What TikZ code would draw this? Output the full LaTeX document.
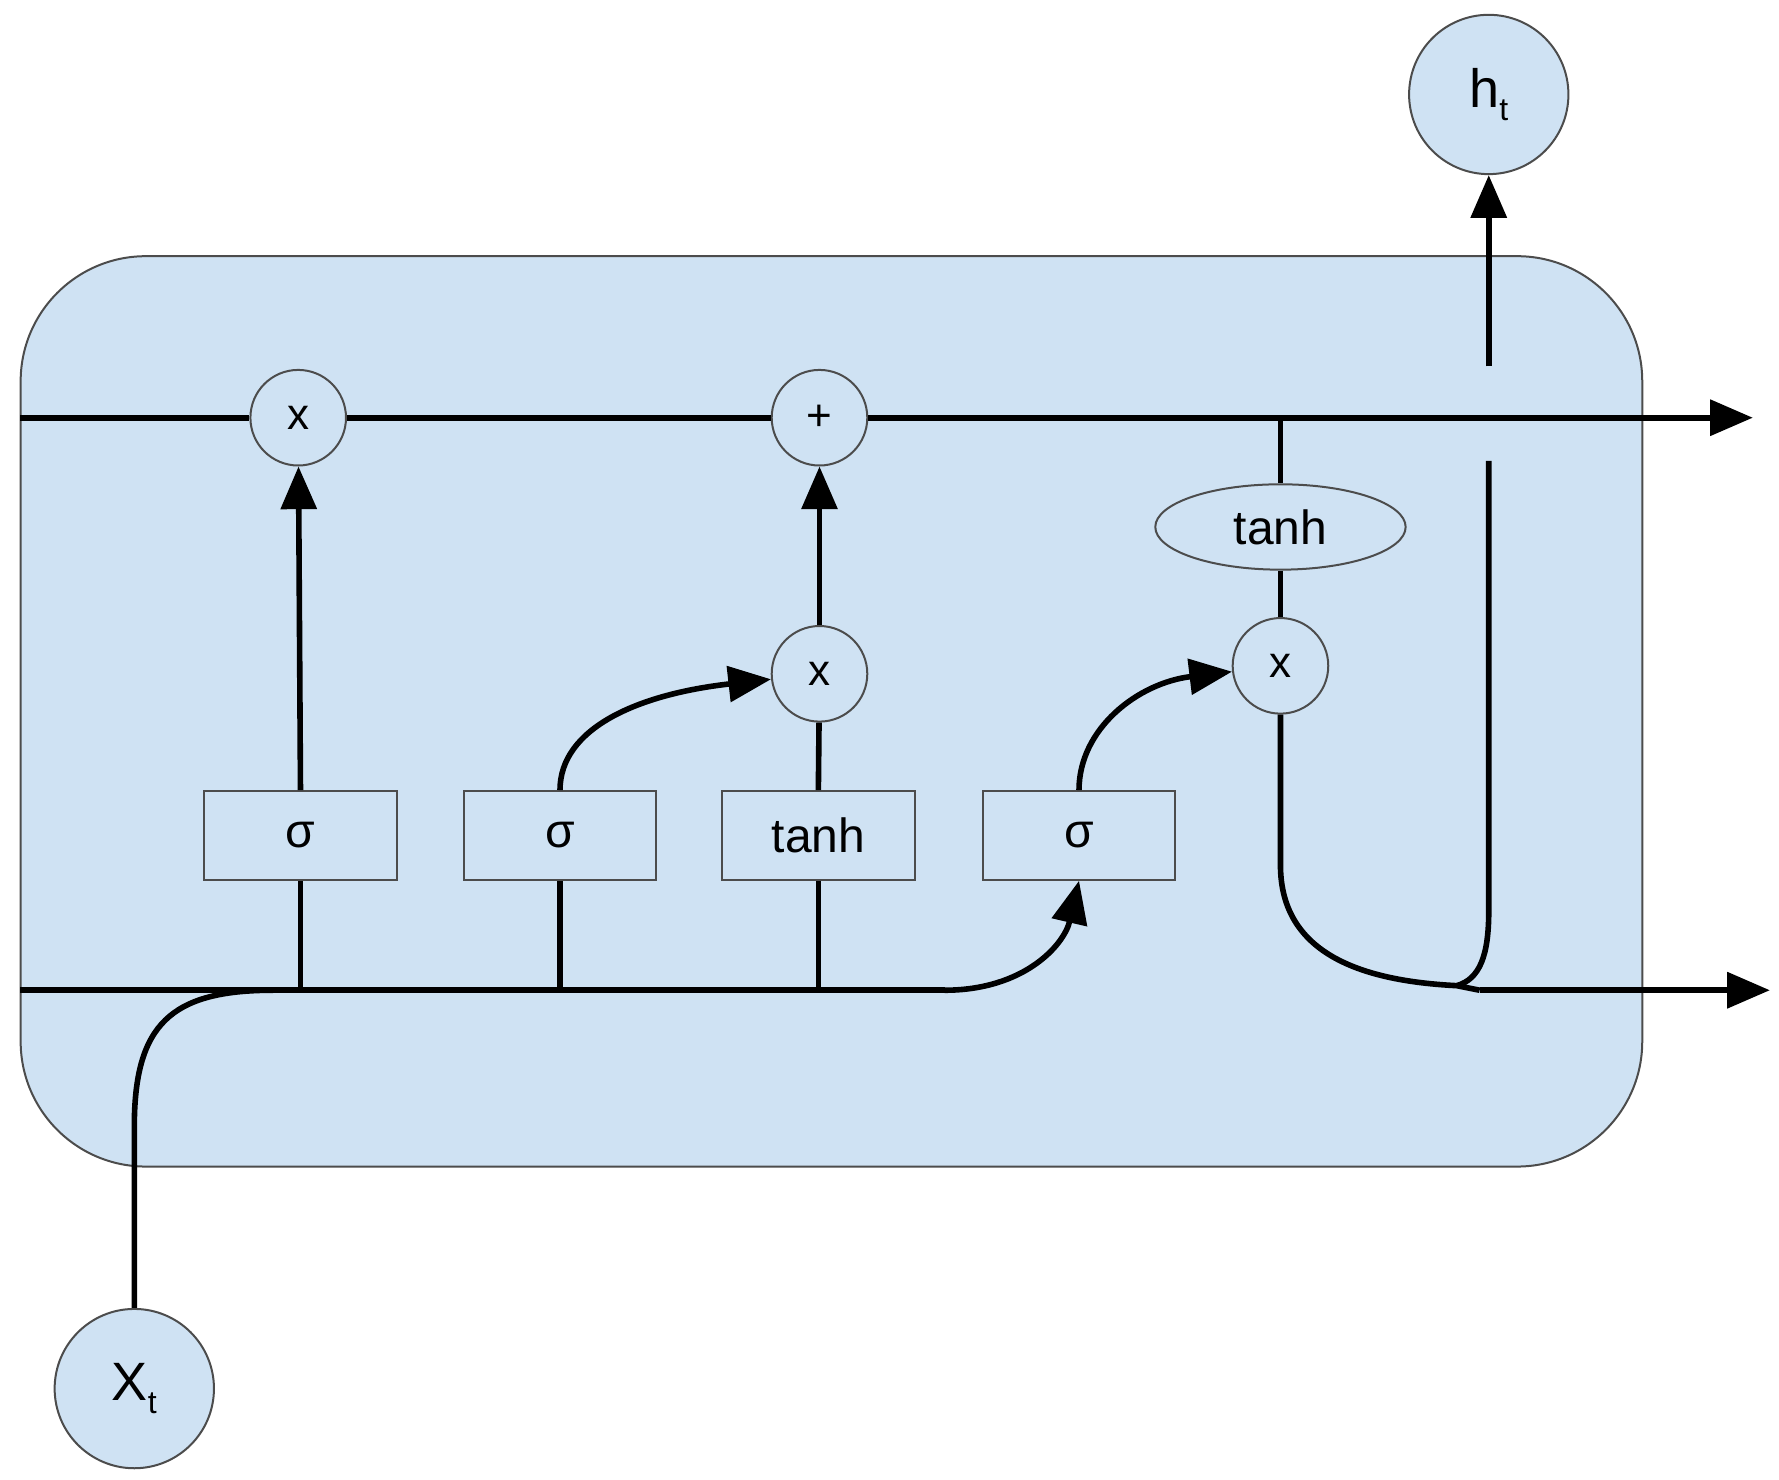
\documentclass[tikz,border=0pt]{standalone}
\usepackage{fontspec}
\setmainfont{Liberation Sans}
\usetikzlibrary{arrows.meta,shapes.geometric}
\definecolor{cellblue}{HTML}{CFE2F3}
\begin{document}
\begin{tikzpicture}[x=0.02cm,y=-0.02cm,
  wire/.style={line width=2.8pt},
  arr/.style={wire,-{Triangle[length=0.75cm,width=0.62cm]}},
  op/.style={circle,draw=black!70,line width=1pt,fill=cellblue,minimum size=1.68cm,inner sep=0,font=\fontsize{22}{24}\selectfont},
  box/.style={rectangle,draw=black!70,line width=1pt,fill=cellblue,minimum width=3.38cm,minimum height=1.56cm,inner sep=0,font=\fontsize{24}{26}\selectfont},
  io/.style={ellipse,draw=black!70,line width=1pt,fill=cellblue,minimum width=2.8cm,minimum height=2.8cm,inner sep=0,font=\fontsize{27}{30}\selectfont}]
\useasboundingbox (0,0) rectangle (1563,1300);
\node[draw=black!70,line width=1pt,fill=cellblue,rounded corners=2.2cm,minimum width=28.5cm,minimum height=16cm] (cell) at (730.5,625) {};
\node[op] (m1) at (262,367) {x};
\node[op] (pl) at (720,367) {+};
\node[op] (m2) at (720,592) {x};
\node[op] (m3) at (1125,585) {x};
\node[ellipse,draw=black!70,line width=1pt,fill=cellblue,minimum width=4.4cm,minimum height=1.5cm,inner sep=0,font=\fontsize{24}{26}\selectfont] (th) at (1125,463) {tanh};
\node[box] (s1) at (264,734) {σ};
\node[box] (s2) at (492,734) {σ};
\node[box] (t1) at (719,734) {tanh};
\node[box] (s3) at (948,734) {σ};
\node[io] (ht) at (1308,83) {h\raisebox{-0.45ex}{\fontsize{16}{18}\selectfont t}};
\node[io] (xt) at (118,1220) {X\raisebox{-0.45ex}{\fontsize{16}{18}\selectfont t}};
\coordinate (cl) at (18,367);
\coordinate (cr) at (1540,367);
\coordinate (bl) at (18,870);
\coordinate (br) at (1555,870);
\coordinate (bm) at (830,870);
\coordinate (bj) at (1280,866);
\draw[wire] (cl) -- (m1) -- (pl);
\draw[arr] (pl) -- (cr);
\draw[wire] (bl) -- (bm);
\draw[arr] (bm) .. controls (900,870) and (935,830) .. (s3.south);
\draw[arr] (1300,870) -- (br);
\draw[wire] (xt.north) -- (118,990) .. controls (118,900) and (150,870) .. (240,870);
\draw[wire] (s1.south) -- (264,870);
\draw[wire] (s2.south) -- (492,870);
\draw[wire] (t1.south) -- (719,870);
\draw[arr] (s1.north) -- (m1);
\draw[arr] (s2.north) .. controls (492,640) and (560,610) .. (m2);
\draw[wire] (t1.north) -- (m2);
\draw[arr] (m2) -- (pl);
\draw[arr] (s3.north) .. controls (948,640) and (1000,600) .. (m3);
\draw[wire] (1125,367) -- (th);
\draw[wire] (th) -- (m3);
\draw[wire] (m3) -- (1125,760) .. controls (1125,840) and (1200,862) .. (bj) -- (1300,870);
\draw[wire] (bj) .. controls (1300,860) and (1308,840) .. (1308,800) -- (1308,405);
\draw[arr] (1308,322) -- (ht);
\end{tikzpicture}
\end{document}
